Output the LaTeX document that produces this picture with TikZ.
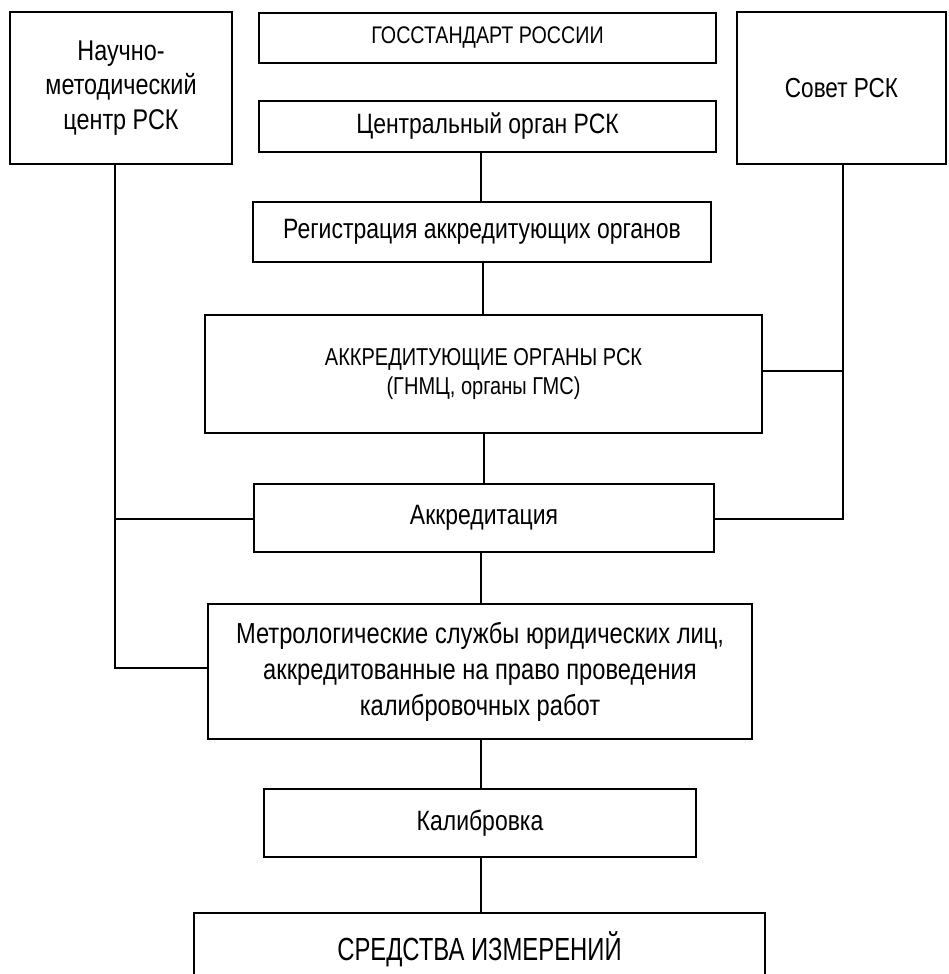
\documentclass[tikz,border=0pt]{standalone}
\usepackage{fontspec}
\setmainfont[FakeStretch=0.82]{Liberation Sans}
\newfontfamily\narrowfont[FakeStretch=0.745]{Liberation Sans}
\begin{document}
\begin{tikzpicture}[x=1pt,y=-1pt,
  box/.style={draw,line width=2pt,inner sep=0pt,outer sep=0pt,align=center,
    font=\fontsize{28}{34.5}\selectfont},
  link/.style={line width=1.3pt}]
\useasboundingbox (0,0) rectangle (948,974);
\clip (0,0) rectangle (948,974);
\node[box,minimum width=222pt,minimum height=152pt,font=\fontsize{28.5}{34.5}\selectfont] (nmc) at (121,88) {Научно-\\методический\\центр РСК};
\node[box,minimum width=457pt,minimum height=50pt,font=\fontsize{24}{30}\selectfont] (gos) at (487.5,38) {ГОССТАНДАРТ РОССИИ};
\node[box,minimum width=457pt,minimum height=51pt] (cent) at (487.5,126.5) {Центральный орган РСК};
\node[box,minimum width=209pt,minimum height=152pt,font=\fontsize{27.5}{34}\selectfont] (sov) at (841.5,88) {Совет РСК};
\node[box,minimum width=458pt,minimum height=60pt] (reg) at (482,232) {Регистрация аккредитующих органов};
\node[box,minimum width=557pt,minimum height=118pt,font=\fontsize{24.4}{34}\selectfont] (akor) at (483.5,374) {\raisebox{-4pt}{\shortstack{АККРЕДИТУЮЩИЕ ОРГАНЫ РСК\\[4pt](ГНМЦ, органы ГМС)}}};
\node[box,minimum width=460pt,minimum height=68pt] (akk) at (484,518) {Аккредитация};
\node[box,minimum width=544pt,minimum height=135pt,font=\fontsize{28.9}{36}\selectfont] (metr) at (480,671.5) {Метрологические службы юридических лиц,\\аккредитованные на право проведения\\калибровочных работ};
\node[box,minimum width=432pt,minimum height=68pt] (kal) at (480,823) {Калибровка};
\node[box,minimum width=571pt,minimum height=72pt,font=\narrowfont\fontsize{32}{38}\selectfont] (sred) at (479.5,949) {СРЕДСТВА ИЗМЕРЕНИЙ};
% spines
\coordinate (c1) at (481,0);
\coordinate (c2) at (483,0);
\coordinate (c3) at (484,0);
\coordinate (lx) at (115,0);
\coordinate (rx) at (843,0);
\coordinate (ya) at (0,519);
\coordinate (ym) at (0,668);
\coordinate (yr) at (0,371);
\draw[link] (cent.south -| c1) -- (reg.north -| c1);
\draw[link] (reg.south -| c2) -- (akor.north -| c2);
\draw[link] (akor.south -| c3) -- (akk.north -| c3);
\draw[link] (akk.south -| c1) -- (metr.north -| c1);
\draw[link] (metr.south -| c1) -- (kal.north -| c1);
\draw[link] (kal.south -| c1) -- (sred.north -| c1);
\draw[link] (nmc.south -| lx) -- (lx |- ym) -- (metr.west |- ym);
\draw[link] (lx |- ya) -- (akk.west |- ya);
\draw[link] (sov.south -| rx) -- (rx |- ya) -- (akk.east |- ya);
\draw[link] (akor.east |- yr) -- (rx |- yr);
\end{tikzpicture}
\end{document}
